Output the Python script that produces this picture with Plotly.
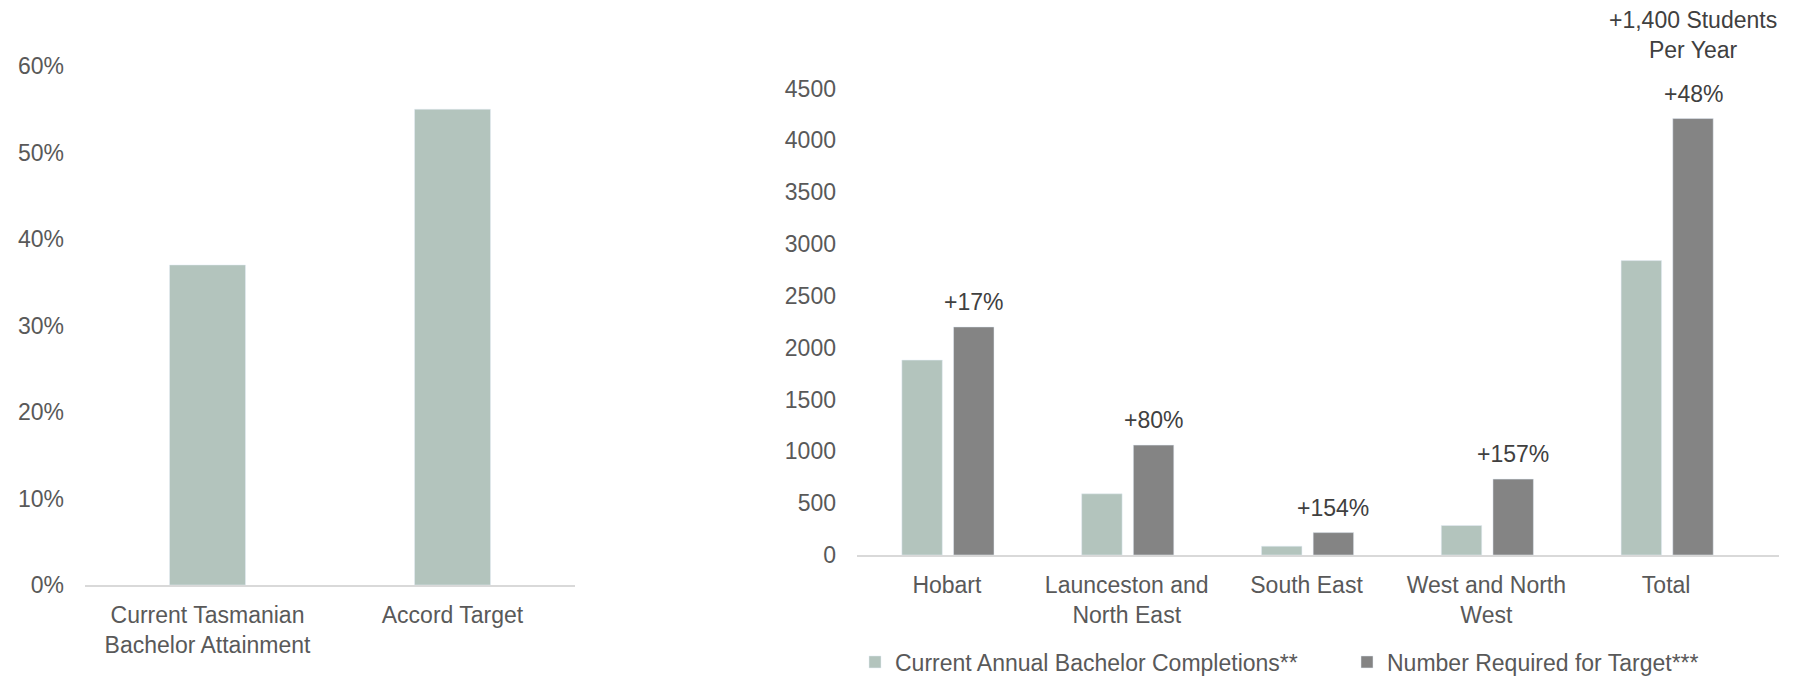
import plotly.graph_objects as go

# ---- data ----
left_categories = ["Current Tasmanian<br>Bachelor Attainment", "Accord Target"]
left_values = [0.37, 0.55]

regions = ["Hobart", "Launceston and<br>North East", "South East", "West and North<br>West", "Total"]
current_completions = [1880, 590, 85, 285, 2840]
required_for_target = [2200, 1060, 216, 732, 4210]
increase_labels = ["+17%", "+80%", "+154%", "+157%", "+48%"]
total_note = "+1,400 Students<br>Per Year"

LIGHT = "#B3C4BD"
DARK = "#848484"
TICK = "#595959"
ANN = "#404040"
FONT = "Liberation Sans, Arial, sans-serif"
FS = 23

W, H = 1806, 681

def fx(px):
    return px / W

def fy(py):
    return 1 - py / H

fig = go.Figure()

fig.add_trace(go.Bar(
    x=left_categories, y=left_values, xaxis="x", yaxis="y",
    marker_color=LIGHT, width=0.31, showlegend=False,
))

fig.add_trace(go.Bar(
    x=regions, y=current_completions, xaxis="x2", yaxis="y2",
    name="Current Annual Bachelor Completions**",
    marker_color=LIGHT, width=0.225, offset=-0.2505,
))
fig.add_trace(go.Bar(
    x=regions, y=required_for_target, xaxis="x2", yaxis="y2",
    name="Number Required for Target***",
    marker_color=DARK, width=0.225, offset=0.0369,
))

annotations = []
for i, (lab, val) in enumerate(zip(increase_labels, required_for_target)):
    annotations.append(dict(
        x=i + 0.0369 + 0.1125, y=val, xref="x2", yref="y2",
        text=lab, showarrow=False, yanchor="bottom", yshift=10,
        font=dict(family=FONT, size=FS, color=ANN),
    ))
annotations.append(dict(
    x=len(regions) - 1 + 0.0369 + 0.1125, y=required_for_target[-1],
    xref="x2", yref="y2", text=total_note, showarrow=False,
    yanchor="bottom", yshift=54,
    font=dict(family=FONT, size=FS, color=ANN),
))

axis_common = dict(showgrid=False, zeroline=False)

fig.update_layout(
    width=W, height=H, autosize=False,
    margin=dict(l=0, r=0, t=0, b=0, autoexpand=False),
    paper_bgcolor="white", plot_bgcolor="white",
    font=dict(family=FONT, size=FS, color=TICK),
    barmode="overlay",
    xaxis=dict(domain=[fx(85), fx(575)], anchor="y", showline=True,
               linecolor="#D9D9D9", linewidth=2, ticks="", automargin=False,
               ticklabelstandoff=8, tickfont=dict(size=FS, color=TICK), **axis_common),
    yaxis=dict(domain=[fy(585), fy(66)], anchor="x", range=[0, 0.6],
               dtick=0.1, tickformat=".0%", showline=False, automargin=False,
               ticklabelstandoff=20, tickfont=dict(size=FS, color=TICK), **axis_common),
    xaxis2=dict(domain=[fx(857), fx(1779)], anchor="y2", showline=True,
                linecolor="#D9D9D9", linewidth=2, ticks="", automargin=False,
                ticklabelstandoff=8, tickfont=dict(size=FS, color=TICK), **axis_common),
    yaxis2=dict(domain=[fy(555), fy(88.5)], anchor="x2", range=[0, 4500],
                dtick=500, showline=False, automargin=False,
                ticklabelstandoff=20, tickfont=dict(size=FS, color=TICK), **axis_common),
    legend=dict(orientation="h", x=fx(855), xanchor="left",
                y=fy(662), yanchor="middle", entrywidth=447, entrywidthmode="pixels",
                font=dict(family=FONT, size=FS, color=TICK),
                bgcolor="rgba(0,0,0,0)"),
    annotations=annotations,
)

fig.write_html(
    "out.html",
    config={"displayModeBar": False},
    post_script="document.body.style.margin='0';document.body.style.overflow='hidden';",
)
